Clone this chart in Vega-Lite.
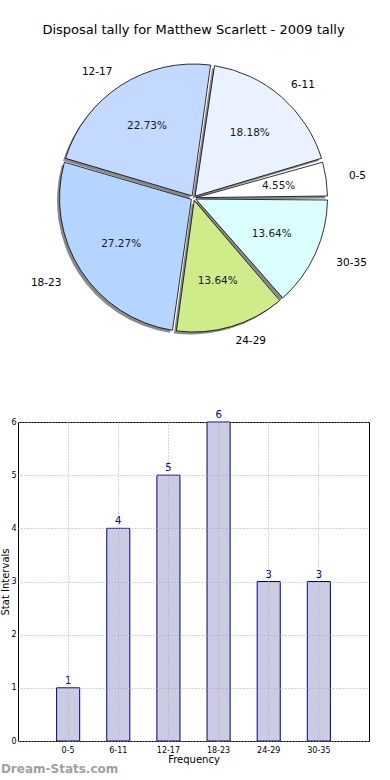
{
  "$schema": "https://vega.github.io/schema/vega-lite/v6.json",
  "padding": {"left": 0, "top": 24, "right": 20, "bottom": 0},
  "background": "white",
  "config": {
    "font": "DejaVu Sans",
    "view": {"stroke": null},
    "concat": {"spacing": 54}
  },
  "datasets": {
    "tally": [
      {"cat": "0-5", "count": 1, "i": 1, "pct": "4.55%"},
      {"cat": "6-11", "count": 4, "i": 2, "pct": "18.18%"},
      {"cat": "12-17", "count": 5, "i": 3, "pct": "22.73%"},
      {"cat": "18-23", "count": 6, "i": 4, "pct": "27.27%"},
      {"cat": "24-29", "count": 3, "i": 5, "pct": "13.64%"},
      {"cat": "30-35", "count": 3, "i": 6, "pct": "13.64%"}
    ]
  },
  "vconcat": [
    {
      "width": 351,
      "height": 300,
      "data": {"name": "tally"},
      "title": {
        "text": "Disposal tally for Matthew Scarlett - 2009 tally",
        "fontSize": 13,
        "fontWeight": "normal",
        "font": "DejaVu Sans",
        "color": "#000000",
        "anchor": "middle",
        "offset": 11
      },
      "view": {"stroke": null},
      "encoding": {
        "theta": {"field": "count", "type": "quantitative", "stack": true, "scale": {"range": [1.5708, -4.7124]}},
        "order": {"field": "i", "type": "quantitative"}
      },
      "layer": [
        {
          "mark": {"type": "arc", "outerRadius": 134, "innerRadius": 2.5, "padAngle": 0.03, "xOffset": -2.5, "yOffset": 2.5, "fill": "#8a8a8a", "stroke": null}
        },
        {
          "mark": {"type": "arc", "outerRadius": 134, "innerRadius": 2.5, "padAngle": 0.03, "stroke": "#000000", "strokeWidth": 0.8},
          "encoding": {
            "color": {
              "field": "cat", "type": "nominal",
              "scale": {
                "domain": ["0-5", "6-11", "12-17", "18-23", "24-29", "30-35"],
                "range": ["#ffffff", "#ebf2ff", "#c4d9ff", "#b4d5ff", "#d0eb8a", "#dbffff"]
              },
              "legend": null
            }
          }
        },
        {
          "mark": {"type": "text", "radius": 86, "fontSize": 10.5, "color": "#1a1a1a"},
          "encoding": {"text": {"field": "pct", "type": "nominal"}}
        },
        {
          "mark": {"type": "text", "radius": 150, "fontSize": 10.5, "align": "right", "baseline": "middle", "color": "#000000"},
          "encoding": {
            "text": {"condition": {"test": "datum.cat === '12-17'", "field": "cat", "type": "nominal"}, "value": ""}
          }
        },
        {
          "mark": {"type": "text", "radius": 157, "fontSize": 10.5, "align": "right", "baseline": "middle", "color": "#000000"},
          "encoding": {
            "text": {"condition": {"test": "datum.cat === '18-23'", "field": "cat", "type": "nominal"}, "value": ""}
          }
        },
        {
          "mark": {"type": "text", "radius": 149, "fontSize": 10.5, "align": "left", "baseline": "middle", "color": "#000000"},
          "encoding": {
            "text": {"condition": {"test": "datum.cat === '6-11' || datum.cat === '24-29'", "field": "cat", "type": "nominal"}, "value": ""}
          }
        },
        {
          "mark": {"type": "text", "radius": 157, "fontSize": 10.5, "align": "left", "baseline": "middle", "color": "#000000"},
          "encoding": {
            "text": {"condition": {"test": "datum.cat === '0-5' || datum.cat === '30-35'", "field": "cat", "type": "nominal"}, "value": ""}
          }
        }
      ]
    },
    {
      "width": 351,
      "height": 319,
      "data": {"name": "tally"},
      "view": {"stroke": "#000000", "strokeWidth": 1},
      "title": {
        "text": "Dream-Stats.com",
        "orient": "bottom",
        "anchor": "start",
        "frame": "bounds",
        "fontSize": 12,
        "fontWeight": "bold",
        "color": "#a0a0a0",
        "font": "DejaVu Sans",
        "offset": 0
      },
      "encoding": {
        "x": {
          "field": "cat", "type": "ordinal",
          "scale": {"domain": ["0-5", "6-11", "12-17", "18-23", "24-29", "30-35"], "paddingInner": 0.54, "paddingOuter": 0.77},
          "axis": {
            "title": "Frequency", "titleFontSize": 10, "titleFontWeight": "normal", "titlePadding": 0, "titleColor": "#000000",
            "labelFontSize": 8, "labelAngle": 0, "labelColor": "#000000", "labelPadding": 5,
            "tickSize": 0, "domain": false,
            "grid": true, "gridDash": [1, 2], "gridColor": "#aaaaaa", "gridWidth": 1, "bandPosition": 0.5, "zindex": 1
          }
        },
        "y": {
          "field": "count", "type": "quantitative",
          "scale": {"domain": [0, 6], "nice": false},
          "axis": {
            "title": "Stat Intervals", "titleFontSize": 10, "titleFontWeight": "normal", "titlePadding": 0, "titleColor": "#000000",
            "values": [0, 1, 2, 3, 4, 5, 6],
            "labelFontSize": 8, "labelColor": "#000000", "labelPadding": 2,
            "tickSize": 0, "domain": false,
            "grid": true, "gridDash": [1, 2], "gridColor": "#aaaaaa", "gridWidth": 1, "zindex": 1
          }
        }
      },
      "layer": [
        {"mark": {"type": "bar", "fill": "#cbcbe3", "stroke": "#000080", "strokeWidth": 1}},
        {
          "mark": {"type": "text", "baseline": "alphabetic", "dy": -4, "color": "#000080", "fontSize": 10},
          "encoding": {"text": {"field": "count", "type": "quantitative"}}
        }
      ]
    }
  ]
}
